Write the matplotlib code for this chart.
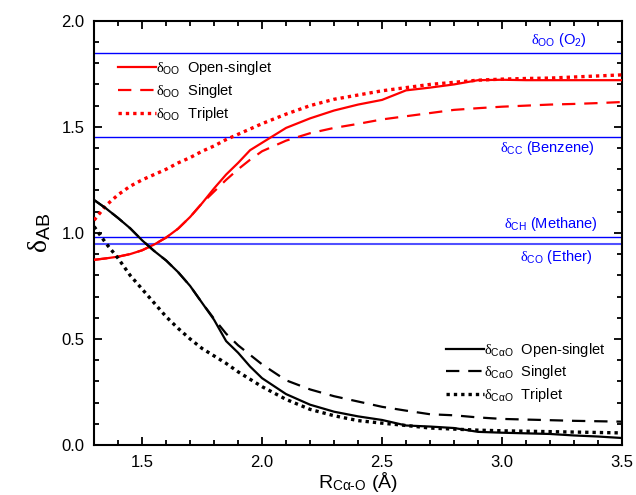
import matplotlib
matplotlib.use('Agg')
import matplotlib.pyplot as plt
from matplotlib.ticker import MultipleLocator, FormatStrFormatter

plt.rcParams['font.family'] = ['Liberation Sans', 'DejaVu Sans']
plt.rcParams['mathtext.fontset'] = 'custom'
plt.rcParams['mathtext.rm'] = 'Liberation Sans'
plt.rcParams['mathtext.it'] = 'Liberation Serif'
plt.rcParams['mathtext.bf'] = 'Liberation Sans:bold'

# bond distance R(C-alpha..O), Angstrom
r_dist = [1.3, 1.35, 1.4, 1.45, 1.5, 1.55, 1.6, 1.65, 1.7, 1.75, 1.8, 1.85,
          1.9, 1.95, 2.0, 2.1, 2.2, 2.3, 2.4, 2.5, 2.6, 2.7, 2.8, 2.9, 3.0,
          3.1, 3.2, 3.3, 3.4, 3.5]

# delocalisation index O-O
oo_open = [0.873, 0.88, 0.888, 0.90, 0.918, 0.945, 0.978, 1.02, 1.075, 1.14,
           1.21, 1.275, 1.33, 1.39, 1.425, 1.495, 1.54, 1.577, 1.605, 1.627,
           1.672, 1.685, 1.70, 1.72, 1.722, 1.72, 1.72, 1.72, 1.72, 1.72]
oo_singlet = [0.873, 0.88, 0.888, 0.90, 0.918, 0.945, 0.978, 1.02, 1.075, 1.14,
              1.195, 1.25, 1.30, 1.345, 1.385, 1.435, 1.47, 1.495, 1.514, 1.535,
              1.55, 1.565, 1.58, 1.588, 1.595, 1.60, 1.605, 1.608, 1.612, 1.617]
oo_triplet = [1.06, 1.13, 1.18, 1.22, 1.25, 1.275, 1.30, 1.33, 1.355, 1.385,
              1.41, 1.44, 1.465, 1.49, 1.515, 1.56, 1.60, 1.63, 1.65, 1.67,
              1.685, 1.70, 1.71, 1.72, 1.725, 1.728, 1.73, 1.735, 1.74, 1.745]

# delocalisation index C-alpha..O
co_open = [1.155, 1.115, 1.07, 1.022, 0.965, 0.915, 0.87, 0.815, 0.75, 0.67,
           0.59, 0.49, 0.435, 0.37, 0.315, 0.24, 0.19, 0.157, 0.135, 0.118,
           0.092, 0.087, 0.08, 0.062, 0.058, 0.055, 0.052, 0.045, 0.04, 0.033]
co_singlet = [1.155, 1.115, 1.07, 1.022, 0.965, 0.915, 0.87, 0.815, 0.75, 0.67,
              0.595, 0.525, 0.47, 0.425, 0.38, 0.305, 0.262, 0.23, 0.205, 0.18,
              0.162, 0.145, 0.14, 0.13, 0.123, 0.12, 0.117, 0.114, 0.112, 0.11]
co_triplet = [1.03, 0.95, 0.88, 0.80, 0.735, 0.67, 0.605, 0.55, 0.50, 0.455,
              0.42, 0.385, 0.345, 0.31, 0.275, 0.215, 0.168, 0.138, 0.115, 0.103,
              0.092, 0.08, 0.075, 0.07, 0.067, 0.065, 0.063, 0.061, 0.059, 0.057]

# reference values
ref_values = [1.85, 1.45, 0.98, 0.95]
ref_labels = [r'$\delta_{\rm OO}$ (O$_2$)', r'$\delta_{\rm CC}$ (Benzene)',
              r'$\delta_{\rm CH}$ (Methane)', r'$\delta_{\rm CO}$ (Ether)']
ref_label_x = [3.12, 2.99, 3.01, 3.075]
ref_label_y = [1.91, 1.40, 1.04, 0.887]

fig = plt.figure(figsize=(6.36, 4.95), dpi=100)
ax = fig.add_axes([0.148, 0.101, 0.83, 0.857])

ref_colors = ['#0000ff', '#0000ff', '#0000ff', '#5050ff']
ref_widths = [1.0, 1.0, 1.0, 1.5]
for val, c, w in zip(ref_values, ref_colors, ref_widths):
    ax.axhline(val, color=c, lw=w, zorder=1)
for lab, x, y in zip(ref_labels, ref_label_x, ref_label_y):
    ax.text(x, y, lab, color='#0000ff', fontsize=10.5, ha='left', va='center')

dash = (0, (6, 4))
dot = (0, (1, 1.2))
red = '#ff0000'
l1, = ax.plot(r_dist, oo_open, color=red, lw=1.6, zorder=3)
l2, = ax.plot(r_dist, oo_singlet, color=red, lw=1.6, ls=dash, zorder=3)
l3, = ax.plot(r_dist, oo_triplet, color=red, lw=2.4, ls=dot, zorder=3)
k1, = ax.plot(r_dist, co_open, color='black', lw=1.6, zorder=3)
k2, = ax.plot(r_dist, co_singlet, color='black', lw=1.6, ls=dash, zorder=3)
k3, = ax.plot(r_dist, co_triplet, color='black', lw=2.4, ls=dot, zorder=3)

leg1 = ax.legend([l1, l2, l3],
                 [r'$\delta_{\rm OO}$  Open-singlet', r'$\delta_{\rm OO}$  Singlet',
                  r'$\delta_{\rm OO}$  Triplet'],
                 loc='upper left', bbox_to_anchor=(0.045, 0.909), frameon=False,
                 fontsize=10.5, handlelength=2.6, handletextpad=0.0,
                 labelspacing=0.33, borderpad=0, borderaxespad=0)
ax.add_artist(leg1)
ax.legend([k1, k2, k3],
          [r'$\delta_{\rm C\alpha O}$  Open-singlet', r'$\delta_{\rm C\alpha O}$  Singlet',
           r'$\delta_{\rm C\alpha O}$  Triplet'],
          loc='upper left', bbox_to_anchor=(0.667, 0.246), frameon=False,
          fontsize=10.5, handlelength=2.6, handletextpad=0.0,
          labelspacing=0.33, borderpad=0, borderaxespad=0)

ax.set_xlim(1.3, 3.5)
ax.set_ylim(0.0, 2.0)
ax.xaxis.set_major_locator(MultipleLocator(0.5))
ax.xaxis.set_minor_locator(MultipleLocator(0.1))
ax.yaxis.set_major_locator(MultipleLocator(0.5))
ax.yaxis.set_minor_locator(MultipleLocator(0.1))
ax.tick_params(which='both', direction='in', top=True, right=True, width=1.3,
               labelsize=12)
ax.tick_params(which='major', length=6)
ax.tick_params(which='minor', length=3.5)
ax.tick_params(axis='x', pad=7)
ax.tick_params(axis='y', pad=7)
ax.xaxis.set_major_formatter(FormatStrFormatter('%.1f'))
ax.yaxis.set_major_formatter(FormatStrFormatter('%.1f'))
for s in ax.spines.values():
    s.set_linewidth(1.5)

ax.set_xlabel(r'R$_{\rm C\alpha\text{-}O}$ (Å)', fontsize=14, labelpad=0)
ax.set_ylabel(r'$\delta_{\rm AB}$', fontsize=20, labelpad=6)

fig.savefig('out.png', dpi=100)
